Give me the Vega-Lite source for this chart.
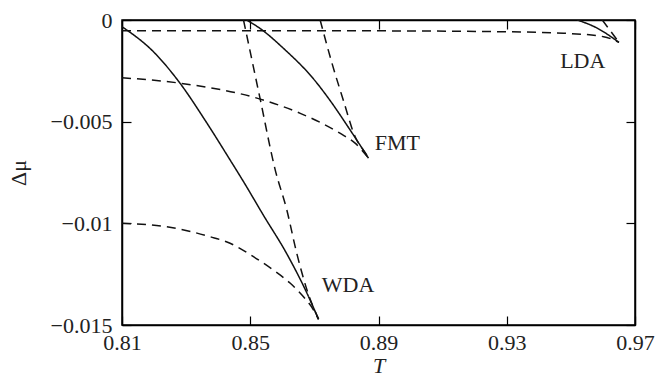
{
  "$schema": "https://vega.github.io/schema/vega-lite/v6.json",
  "width": 513,
  "height": 305,
  "autosize": {"type": "none"},
  "padding": {"left": 122, "top": 20, "right": 22, "bottom": 58},
  "background": "white",
  "config": {
    "view": {"stroke": "#000", "strokeWidth": 1.5},
    "font": "Liberation Serif",
    "axis": {
      "labelFont": "Liberation Serif",
      "titleFont": "Liberation Serif",
      "labelFontSize": 22,
      "titleFontSize": 22,
      "labelColor": "#222",
      "titleColor": "#222",
      "titleFontWeight": "normal",
      "grid": false,
      "domainColor": "#000",
      "domainWidth": 1.5,
      "tickColor": "#000",
      "tickWidth": 1.2,
      "tickSize": -9
    }
  },
  "datasets": {
    "curves": [
      {"curve": "WDA solid", "style": "solid", "T": 0.81, "dmu": -0.00033},
      {"curve": "WDA solid", "style": "solid", "T": 0.8198, "dmu": -0.00156},
      {"curve": "WDA solid", "style": "solid", "T": 0.8281, "dmu": -0.00311},
      {"curve": "WDA solid", "style": "solid", "T": 0.8364, "dmu": -0.00505},
      {"curve": "WDA solid", "style": "solid", "T": 0.8437, "dmu": -0.00688},
      {"curve": "WDA solid", "style": "solid", "T": 0.8479, "dmu": -0.00795},
      {"curve": "WDA solid", "style": "solid", "T": 0.8541, "dmu": -0.0096},
      {"curve": "WDA solid", "style": "solid", "T": 0.8614, "dmu": -0.0115},
      {"curve": "WDA solid", "style": "solid", "T": 0.8677, "dmu": -0.01344},
      {"curve": "WDA solid", "style": "solid", "T": 0.8713, "dmu": -0.01472},
      {"curve": "WDA flat", "style": "dashed", "T": 0.81, "dmu": -0.01},
      {"curve": "WDA flat", "style": "dashed", "T": 0.824, "dmu": -0.01017},
      {"curve": "WDA flat", "style": "dashed", "T": 0.8375, "dmu": -0.01066},
      {"curve": "WDA flat", "style": "dashed", "T": 0.8437, "dmu": -0.01098},
      {"curve": "WDA flat", "style": "dashed", "T": 0.851, "dmu": -0.01164},
      {"curve": "WDA flat", "style": "dashed", "T": 0.8572, "dmu": -0.0123},
      {"curve": "WDA flat", "style": "dashed", "T": 0.8625, "dmu": -0.01295},
      {"curve": "WDA flat", "style": "dashed", "T": 0.8666, "dmu": -0.01361},
      {"curve": "WDA flat", "style": "dashed", "T": 0.8697, "dmu": -0.01425},
      {"curve": "WDA flat", "style": "dashed", "T": 0.8713, "dmu": -0.01472},
      {"curve": "WDA steep", "style": "dashed", "T": 0.8479, "dmu": 0},
      {"curve": "WDA steep", "style": "dashed", "T": 0.8531, "dmu": -0.00389},
      {"curve": "WDA steep", "style": "dashed", "T": 0.8578, "dmu": -0.00738},
      {"curve": "WDA steep", "style": "dashed", "T": 0.8614, "dmu": -0.00934},
      {"curve": "WDA steep", "style": "dashed", "T": 0.8645, "dmu": -0.01147},
      {"curve": "WDA steep", "style": "dashed", "T": 0.8677, "dmu": -0.01328},
      {"curve": "WDA steep", "style": "dashed", "T": 0.8713, "dmu": -0.01471},
      {"curve": "FMT solid", "style": "solid", "T": 0.8489, "dmu": 0},
      {"curve": "FMT solid", "style": "solid", "T": 0.8531, "dmu": -0.00042},
      {"curve": "FMT solid", "style": "solid", "T": 0.8604, "dmu": -0.0014},
      {"curve": "FMT solid", "style": "solid", "T": 0.8698, "dmu": -0.00291},
      {"curve": "FMT solid", "style": "solid", "T": 0.8749, "dmu": -0.00396},
      {"curve": "FMT solid", "style": "solid", "T": 0.8812, "dmu": -0.00542},
      {"curve": "FMT solid", "style": "solid", "T": 0.8869, "dmu": -0.0068},
      {"curve": "FMT flat", "style": "dashed", "T": 0.81, "dmu": -0.00284},
      {"curve": "FMT flat", "style": "dashed", "T": 0.8282, "dmu": -0.00311},
      {"curve": "FMT flat", "style": "dashed", "T": 0.8531, "dmu": -0.00389},
      {"curve": "FMT flat", "style": "dashed", "T": 0.8656, "dmu": -0.00459},
      {"curve": "FMT flat", "style": "dashed", "T": 0.8781, "dmu": -0.00558},
      {"curve": "FMT flat", "style": "dashed", "T": 0.8828, "dmu": -0.00607},
      {"curve": "FMT flat", "style": "dashed", "T": 0.8869, "dmu": -0.0068},
      {"curve": "FMT steep", "style": "dashed", "T": 0.8718, "dmu": 0},
      {"curve": "FMT steep", "style": "dashed", "T": 0.8755, "dmu": -0.00213},
      {"curve": "FMT steep", "style": "dashed", "T": 0.879, "dmu": -0.00393},
      {"curve": "FMT steep", "style": "dashed", "T": 0.8827, "dmu": -0.00574},
      {"curve": "FMT steep", "style": "dashed", "T": 0.8859, "dmu": -0.00654},
      {"curve": "FMT steep", "style": "dashed", "T": 0.8869, "dmu": -0.0068},
      {"curve": "LDA flat", "style": "dashed", "T": 0.81, "dmu": -0.00053},
      {"curve": "LDA flat", "style": "dashed", "T": 0.878, "dmu": -0.00053},
      {"curve": "LDA flat", "style": "dashed", "T": 0.9301, "dmu": -0.00058},
      {"curve": "LDA flat", "style": "dashed", "T": 0.9477, "dmu": -0.00065},
      {"curve": "LDA flat", "style": "dashed", "T": 0.9602, "dmu": -0.00082},
      {"curve": "LDA flat", "style": "dashed", "T": 0.965, "dmu": -0.0011},
      {"curve": "LDA solid", "style": "solid", "T": 0.952, "dmu": 0},
      {"curve": "LDA solid", "style": "solid", "T": 0.9582, "dmu": -0.0004},
      {"curve": "LDA solid", "style": "solid", "T": 0.965, "dmu": -0.0011},
      {"curve": "LDA steep", "style": "dashed", "T": 0.9598, "dmu": 0},
      {"curve": "LDA steep", "style": "dashed", "T": 0.965, "dmu": -0.0011}
    ],
    "labels": [
      {"label": "WDA", "T": 0.8805, "dmu": -0.01303},
      {"label": "FMT", "T": 0.8959, "dmu": -0.00605},
      {"label": "LDA", "T": 0.9537, "dmu": -0.00202}
    ]
  },
  "layer": [
    {
      "data": {"name": "curves"},
      "mark": {"type": "line", "color": "#111", "strokeWidth": 1.5, "clip": true, "interpolate": "monotone"},
      "encoding": {
        "x": {
          "field": "T", "type": "quantitative",
          "scale": {"domain": [0.81, 0.97], "nice": false, "zero": false},
          "axis": {
            "orient": "bottom",
            "values": [0.81, 0.85, 0.89, 0.93, 0.97],
            "format": ".2f",
            "labelPadding": 16,
            "labelFlush": false,
            "title": "T",
            "titleFontStyle": "italic",
            "titlePadding": 2
          }
        },
        "y": {
          "field": "dmu", "type": "quantitative",
          "scale": {"domain": [-0.015, 0], "nice": false, "zero": false},
          "axis": {
            "orient": "left",
            "values": [0, -0.005, -0.01, -0.015],
            "format": ".3~f",
            "labelPadding": 19,
            "labelFlush": false,
            "title": "Δμ",
            "titlePadding": 20
          }
        },
        "detail": {"field": "curve"},
        "strokeDash": {
          "field": "style", "type": "nominal",
          "scale": {"domain": ["solid", "dashed"], "range": [[1, 0], [9, 6]]},
          "legend": null
        }
      }
    },
    {
      "data": {"name": "labels"},
      "mark": {"type": "text", "font": "Liberation Serif", "fontSize": 22, "color": "#222", "align": "center", "baseline": "middle"},
      "encoding": {
        "x": {
          "field": "T", "type": "quantitative",
          "scale": {"domain": [0.81, 0.97], "nice": false, "zero": false},
          "axis": {"orient": "top", "values": [0.81, 0.85, 0.89, 0.93, 0.97], "labels": false, "title": null}
        },
        "y": {
          "field": "dmu", "type": "quantitative",
          "scale": {"domain": [-0.015, 0], "nice": false, "zero": false},
          "axis": {"orient": "right", "values": [0, -0.005, -0.01, -0.015], "labels": false, "title": null}
        },
        "text": {"field": "label", "type": "nominal"}
      }
    }
  ],
  "resolve": {"axis": {"x": "independent", "y": "independent"}}
}
